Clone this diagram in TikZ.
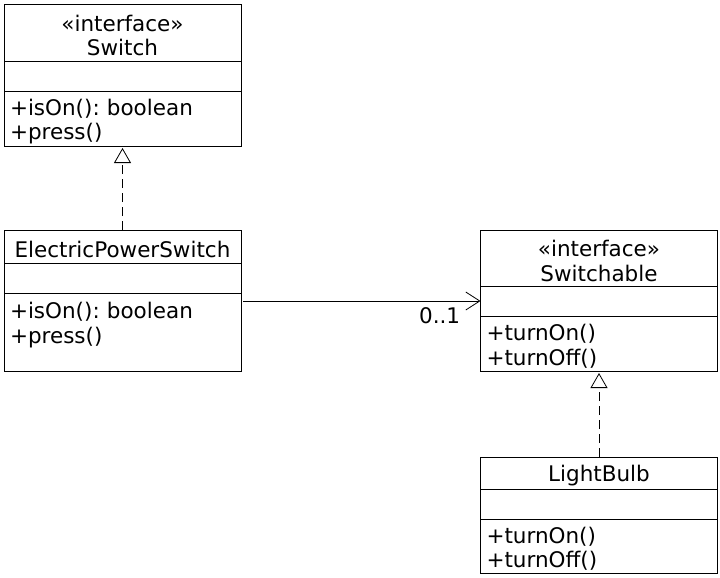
\documentclass[tikz,border=0pt]{standalone}
\usepackage{fontspec}
\setmainfont{DejaVu Sans}
\usetikzlibrary{positioning,arrows.meta}

\tikzset{
  clsbox/.style={draw, line width=0.8pt, minimum width=237pt, text width=225pt,
    inner xsep=6pt, inner ysep=0pt, outer sep=0pt, text height=22pt,
    font=\fontsize{21.5pt}{24.5pt}\selectfont},
  clshead/.style={clsbox, align=center, anchor=north},
  clsattr/.style={clsbox, minimum height=30pt},
  clsops/.style={clsbox, align=left},
  realize/.style={dash pattern=on 9pt off 5pt, line width=0.8pt,
    -{Triangle[open, length=15pt, width=17pt]}, shorten >=2pt},
  assoc/.style={line width=0.8pt, -{Straight Barb[length=14pt, width=18pt]}}
}

\begin{document}
\frenchspacing
\begin{tikzpicture}[x=1pt, y=-1pt]
\useasboundingbox (0,0) rectangle (720,578);

% Switch
\node[clshead, minimum height=57pt] (swh) at (122.5,4) {«interface»\\Switch};
\node[clsattr, below=0pt of swh] (swa) {};
\node[clsops, below=0pt of swa, minimum height=55pt] (swo) {+isOn(): boolean\\+press()};

% ElectricPowerSwitch
\node[clshead, minimum height=33pt] (epsh) at (122.5,230) {ElectricPowerSwitch};
\node[clsattr, below=0pt of epsh] (epsa) {};
\node[clsops, below=0pt of epsa, minimum height=78pt] (epso) {+isOn(): boolean\\+press()\\ \mbox{}};

% Switchable
\node[clshead, minimum height=56pt] (sbh) at (599,230) {«interface»\\Switchable};
\node[clsattr, below=0pt of sbh] (sba) {};
\node[clsops, below=0pt of sba, minimum height=55pt] (sbo) {+turnOn()\\+turnOff()};

% LightBulb
\node[clshead, minimum height=32pt, below=86pt of sbo] (lbh) {LightBulb};
\node[clsattr, below=0pt of lbh] (lba) {};
\node[clsops, below=0pt of lba, minimum height=54pt] (lbo) {+turnOn()\\+turnOff()};

% connectors
\draw[realize] (epsh.north) -- (swo.south);
\draw[realize] (lbh.north) -- (sbo.south);
\draw[assoc, shorten <=2pt] (sba.west -| epso.east) -- (sba.west)
  node[anchor=north east, xshift=-18pt, yshift=-4pt, inner sep=2pt,
       font=\fontsize{21.5pt}{24.5pt}\selectfont] (mult) {0..1};
\end{tikzpicture}
\end{document}
